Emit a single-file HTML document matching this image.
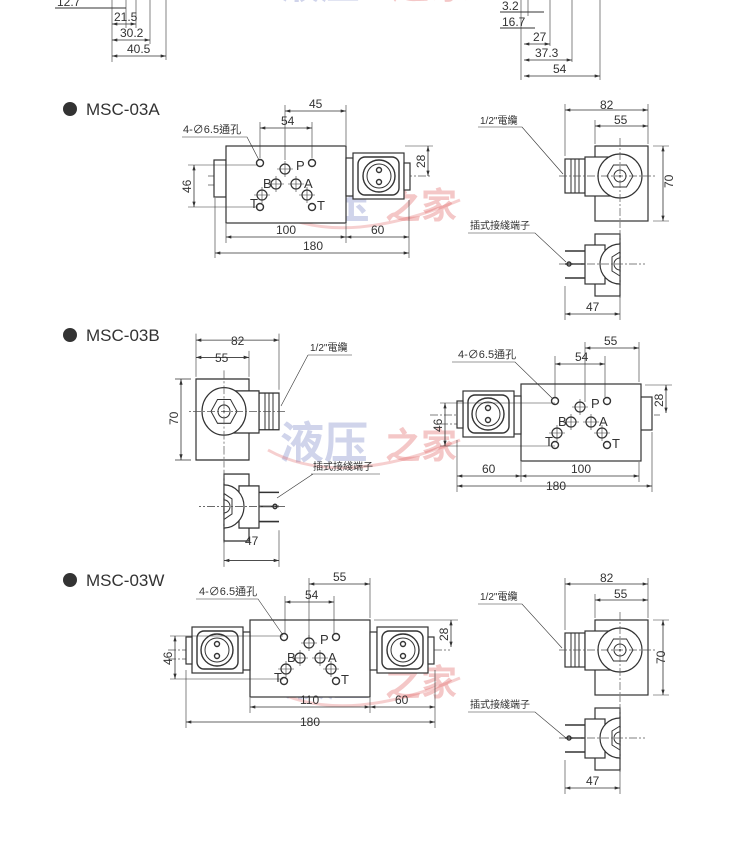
<!DOCTYPE html>
<html><head><meta charset="utf-8"><style>
html,body{margin:0;padding:0;background:#fff;}
svg{display:block;}
text{font-family:"Liberation Sans","Noto Sans CJK TC",sans-serif;fill:#333;}
.l{stroke:#333;stroke-width:1;fill:none;}
.t{stroke:#333;stroke-width:1.4;fill:none;}
.w{stroke:#333;stroke-width:1.2;fill:#fff;}
.c{stroke:#555;stroke-width:0.7;fill:none;stroke-dasharray:8 2 2 2;}
.d{stroke:#333;stroke-width:0.8;fill:none;marker-start:url(#a1);marker-end:url(#a2);}
.e{stroke:#333;stroke-width:0.6;fill:none;}
</style></head><body>
<svg width="750" height="842" viewBox="0 0 750 842" xmlns="http://www.w3.org/2000/svg">
<defs>
<marker id="a2" viewBox="0 0 10 6" refX="10" refY="3" markerWidth="7" markerHeight="4" orient="auto"><path d="M0,0L10,3L0,6z" fill="#333"/></marker>
<marker id="a1" viewBox="0 0 10 6" refX="0" refY="3" markerWidth="7" markerHeight="4" orient="auto"><path d="M10,0L0,3L10,6z" fill="#333"/></marker>
<g id="port"><circle r="5" class="w"/><path class="e" d="M-8,0H8M0,-8V8"/></g>
<g id="hole"><circle r="3.5" class="t" fill="#fff"/></g>
<g id="body">
  <rect x="0" y="0" width="120" height="77" class="w"/>
  <use href="#hole" x="34" y="17"/><use href="#hole" x="86" y="17"/>
  <use href="#hole" x="34" y="61"/><use href="#hole" x="86" y="61"/>
  <use href="#port" x="59" y="23"/><use href="#port" x="50" y="38"/>
  <use href="#port" x="70" y="38"/><use href="#port" x="36" y="49"/><use href="#port" x="81" y="49"/>
  <text x="70" y="24" font-size="13">P</text><text x="37" y="42" font-size="13">B</text>
  <text x="78" y="42" font-size="13">A</text><text x="24" y="62" font-size="13">T</text><text x="91" y="64" font-size="13">T</text>
</g>
<g id="sol">
  <rect x="0" y="12" width="7" height="38" class="w"/>
  <rect x="7" y="7" width="51" height="46" class="w"/>
  <rect x="12" y="11" width="41" height="38" rx="7" class="t"/>
  <circle cx="33" cy="30" r="16" class="t"/>
  <circle cx="33" cy="30" r="12" class="l"/>
  <circle cx="33" cy="24" r="2.5" class="t"/><circle cx="33" cy="36" r="2.5" class="t"/>
  <rect x="58" y="17" width="6" height="27" class="w"/>
</g>
<g id="side">
  <rect x="0" y="0" width="53" height="75" class="w"/>
  <rect x="-30" y="13" width="20" height="34" class="w"/>
  <path class="l" d="M-24,13V47M-20,13V47M-16,13V47"/>
  <rect x="-10" y="11" width="28" height="39" class="w"/>
  <circle cx="25" cy="30" r="22" class="w"/>
  <polygon class="l" points="38,30 31.5,41 18.5,41 12,30 18.5,19 31.5,19"/>
  <circle cx="25" cy="30" r="6" class="l"/>
  <circle cx="25" cy="30" r="1" fill="#333"/>
  <path class="c" d="M25,-8V82M-36,30H62"/>
  <rect x="0" y="88" width="25" height="62" class="w"/>
  <path class="t" d="M-30,105H-10M-30,132H-10M-30,118H-10"/>
  <rect x="-10" y="99" width="20" height="39" class="w"/>
  <path class="w" d="M25,98A20,20 0 0 0 25,138Z"/>
  <path class="l" d="M25,106L17,111L17,125L25,130"/>
  <path class="l" d="M25,112A6,6 0 0 0 25,124"/>
  <path class="c" d="M-36,118H50M25,84V152"/>
  <circle cx="-26" cy="118" r="2" class="t"/>
  <path class="e" d="M-30,-42V10M53,-42V-2M0,-26V-2M58,0H74M58,75H74M-30,140V174M25,140V174"/>
  <path class="d" d="M-30,-36H53"/><path class="d" d="M0,-20H53"/>
  <path class="d" d="M68,0V75"/><path class="d" d="M-30,168H25"/>
</g>
</defs>

<g opacity="0.35" font-family="'Noto Serif CJK SC',serif" font-weight="bold">
<text x="280" y="-2" font-size="40" style="fill:#7a86c8">液压</text><text x="390" y="-2" font-size="40" style="fill:#e06060">之家</text>
<text x="282" y="218" font-size="44" style="fill:#7a86c8">液压</text><text x="385" y="218" font-size="36" style="fill:#e06060">之家</text>
<text x="280" y="458" font-size="44" style="fill:#7a86c8">液压</text><text x="385" y="458" font-size="36" style="fill:#e06060">之家</text>
<text x="282" y="695" font-size="44" style="fill:#7a86c8">液压</text><text x="385" y="695" font-size="36" style="fill:#e06060">之家</text>
</g>
<g opacity="0.3" fill="none" stroke="#e06060" stroke-width="3">
<path d="M270,210Q340,250 460,200"/><path d="M268,450Q340,490 460,440"/><path d="M270,688Q340,728 460,678"/>
</g>

<g font-size="12">
<path class="e" d="M112,0V62M126,0V28M136,0V28M150,0V44M166,0V60"/>
<path class="l" d="M55,8H126" /><text x="57" y="6">12.7</text>
<path class="d" d="M112,24H136"/><text x="114" y="21">21.5</text>
<path class="d" d="M112,40H150"/><text x="120" y="37">30.2</text>
<path class="d" d="M112,56H166"/><text x="127" y="53">40.5</text>
<path class="e" d="M521,0V80M528,0V16M550,0V46M572,0V62M600,0V80"/>
<path class="l" d="M500,12H544"/><text x="502" y="10">3.2</text>
<path class="l" d="M500,28H535"/><text x="502" y="26">16.7</text>
<path class="d" d="M524,44H550"/><text x="533" y="41">27</text>
<path class="d" d="M524,60H572"/><text x="535" y="57">37.3</text>
<path class="d" d="M524,76H600"/><text x="553" y="73">54</text>
</g>

<g font-size="17"><circle cx="70" cy="109" r="7" fill="#333"/><text x="86" y="115">MSC-03A</text>
<circle cx="70" cy="335" r="7" fill="#333"/><text x="86" y="341">MSC-03B</text>
<circle cx="70" cy="580" r="7" fill="#333"/><text x="86" y="586">MSC-03W</text></g>

<!-- MSC-03A -->
<path class="c" d="M208,176H430M208,185H346"/>
<rect x="214" y="160" width="12" height="37" class="w"/>
<use href="#body" x="226" y="146"/>
<use href="#sol" x="346" y="146"/>
<g font-size="12">
<text x="183" y="133" font-size="11">4-∅6.5通孔</text><path class="e" d="M182,137H247L259,160"/>
<path class="e" d="M285,105V160M346,105V145M260,122V158M312,122V158"/>
<path class="d" d="M285,111H346"/><text x="309" y="108">45</text>
<path class="d" d="M260,128H312"/><text x="281" y="125">54</text>
<path class="e" d="M188,165H258M188,207H258"/>
<path class="d" d="M194,165V207"/><text transform="translate(191,193) rotate(-90)">46</text>
<path class="e" d="M405,146H433"/>
<path class="d" d="M428,146V176"/><text transform="translate(425,168) rotate(-90)">28</text>
<path class="e" d="M226,224V243M346,224V243M409,200V258M215,198V258"/>
<path class="d" d="M226,237H346"/><text x="276" y="234">100</text>
<path class="d" d="M346,237H409"/><text x="371" y="234">60</text>
<path class="d" d="M215,253H409"/><text x="303" y="250">180</text>
</g>
<use href="#side" x="595" y="146"/>
<g font-size="10"><text x="480" y="124">1/2"電纜</text><path class="e" d="M478,127H522L563,174"/>
<text x="470" y="229">插式接綫端子</text><path class="e" d="M468,233H535L566,262"/></g>
<g font-size="12"><text x="600" y="109">82</text><text x="614" y="124">55</text><text transform="translate(673,188) rotate(-90)">70</text><text x="586" y="311">47</text></g>

<!-- MSC-03B -->
<path class="c" d="M430,415H660M440,424H521"/>
<rect x="639" y="397" width="13" height="33" class="w"/>
<use href="#body" x="521" y="384"/>
<g transform="translate(521,384) scale(-1,1)"><use href="#sol"/></g>
<g font-size="12">
<text x="458" y="358" font-size="11">4-∅6.5通孔</text><path class="e" d="M452,362H515L553,399"/>
<path class="e" d="M585,342V402M639,342V382M555,356V397M605,356V397"/>
<path class="d" d="M585,348H639"/><text x="604" y="345">55</text>
<path class="d" d="M555,364H605"/><text x="575" y="361">54</text>
<path class="e" d="M440,403H555M440,446H555"/>
<path class="d" d="M445,403V446"/><text transform="translate(442,432) rotate(-90)">46</text>
<path class="e" d="M645,385H672"/>
<path class="d" d="M666,385V413"/><text transform="translate(663,407) rotate(-90)">28</text>
<path class="e" d="M457,440V492M521,462V482M639,462V482M652,432V492"/>
<path class="d" d="M457,476H521"/><text x="482" y="473">60</text>
<path class="d" d="M521,476H639"/><text x="571" y="473">100</text>
<path class="d" d="M457,486H652"/><text x="546" y="490">180</text>
</g>
<g transform="translate(249,379) scale(-1,1.08)"><use href="#side"/></g>
<g font-size="10"><text x="310" y="351">1/2"電纜</text><path class="e" d="M308,355H352M308,355L281,406"/>
<text x="313" y="470">插式接綫端子</text><path class="e" d="M311,474H380M313,474L277,498"/></g>
<g font-size="12"><text x="231" y="345">82</text><text x="215" y="362">55</text><text transform="translate(178,425) rotate(-90)">70</text><text x="245" y="545">47</text></g>

<!-- MSC-03W -->
<path class="c" d="M168,650H450M168,659H250"/>
<use href="#body" x="250" y="620"/>
<g transform="translate(250,620) scale(-1,1)"><use href="#sol"/></g>
<use href="#sol" x="370" y="620"/>
<g font-size="12">
<text x="199" y="595" font-size="11">4-∅6.5通孔</text><path class="e" d="M196,599H258L283,635"/>
<path class="e" d="M309,578V640M370,578V618M285,596V634M334,596V634"/>
<path class="d" d="M309,584H370"/><text x="333" y="581">55</text>
<path class="d" d="M285,602H334"/><text x="305" y="599">54</text>
<path class="e" d="M170,636H283M170,679H283"/>
<path class="d" d="M175,636V679"/><text transform="translate(172,665) rotate(-90)">46</text>
<path class="e" d="M374,620H458"/>
<path class="d" d="M451,620V647"/><text transform="translate(448,641) rotate(-90)">28</text>
<path class="e" d="M250,698V713M370,698V713M435,670V728M186,670V728"/>
<path class="d" d="M250,707H370"/><text x="300" y="704">110</text>
<path class="d" d="M370,707H435"/><text x="395" y="704">60</text>
<path class="d" d="M186,722H435"/><text x="300" y="726">180</text>
</g>
<use href="#side" x="595" y="620"/>
<g font-size="10"><text x="480" y="600">1/2"電纜</text><path class="e" d="M478,604H522L562,648"/>
<text x="470" y="708">插式接綫端子</text><path class="e" d="M468,712H535L566,738"/></g>
<g font-size="12"><text x="600" y="582">82</text><text x="614" y="598">55</text><text transform="translate(665,664) rotate(-90)">70</text><text x="586" y="785">47</text></g>
</svg>
</body></html>
